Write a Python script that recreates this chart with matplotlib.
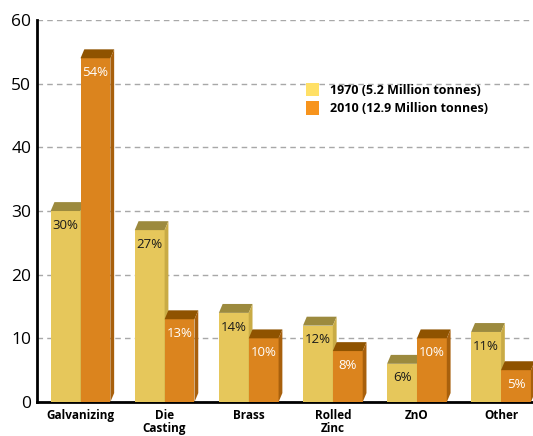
import numpy as np
import matplotlib.pyplot as plt
from matplotlib.patches import Polygon, Patch

plt.rcParams['font.family'] = ['Open Sans', 'DejaVu Sans']

categories = ['Galvanizing', 'Die\nCasting', 'Brass', 'Rolled\nZinc', 'ZnO', 'Other']
share_1970 = [30, 27, 14, 12, 6, 11]
share_2010 = [54, 13, 10, 8, 10, 5]
series_names = ['1970 (5.2 Million tonnes)', '2010 (12.9 Million tonnes)']

# colours: front, top, side
col_1970 = ('#E6C75B', '#9C8A3E', '#C9AB45')
col_2010 = ('#DB841E', '#8F5300', '#A8600C')

fig = plt.figure(figsize=(5.33, 4.36), dpi=100)
ax = fig.add_axes([0.069, 0.078, 0.931, 0.876])

w = 0.355     # bar width
dx = 0.045    # depth offset (x)
dy = 1.4      # depth offset (y)
x = np.arange(len(categories))


def bar3d(x0, h, cols, txt, tcol):
    front, top, side = cols
    ax.add_patch(Polygon([(x0, 0), (x0 + w, 0), (x0 + w, h), (x0, h)],
                         closed=True, facecolor=front, edgecolor='none', zorder=3))
    ax.add_patch(Polygon([(x0, h), (x0 + w, h), (x0 + w + dx, h + dy), (x0 + dx, h + dy)],
                         closed=True, facecolor=top, edgecolor='none', zorder=3))
    ax.add_patch(Polygon([(x0 + w, 0), (x0 + w + dx, dy), (x0 + w + dx, h + dy), (x0 + w, h)],
                         closed=True, facecolor=side, edgecolor='none', zorder=3))
    ax.text(x0 + w / 2, h - 1.2, txt, ha='center', va='top', fontsize=9.5,
            color=tcol, zorder=4)


for i in range(len(categories)):
    bar3d(x[i] - w, share_1970[i], col_1970, '%d%%' % share_1970[i], '#1a1a1a')
    bar3d(x[i], share_2010[i], col_2010, '%d%%' % share_2010[i], 'white')

ax.set_xlim(-0.52, 5.38)
ax.set_ylim(0, 60)
ax.set_yticks(range(0, 61, 10))
ax.set_xticks(x)
ax.set_xticklabels(categories, fontsize=8.5, fontweight='bold', linespacing=1.05)
ax.tick_params(axis='y', length=0, labelsize=12.5, pad=4)
ax.tick_params(axis='x', length=0, pad=5)
ax.yaxis.grid(True, linestyle=(0, (4, 3)), color='#a8a8a8', linewidth=1, zorder=0)
ax.set_axisbelow(True)
for s in ['top', 'right']:
    ax.spines[s].set_visible(False)
ax.spines['left'].set_linewidth(2)
ax.spines['bottom'].set_linewidth(2)

handles = [Patch(facecolor='#FFE066'), Patch(facecolor='#F7941D')]
ax.legend(handles, series_names, loc='upper left', bbox_to_anchor=(0.52, 0.865),
          frameon=False, prop={'weight': 'bold', 'size': 9},
          handlelength=1.0, handleheight=1.3, handletextpad=0.9, labelspacing=0.35)

fig.savefig('out.png', dpi=100)
